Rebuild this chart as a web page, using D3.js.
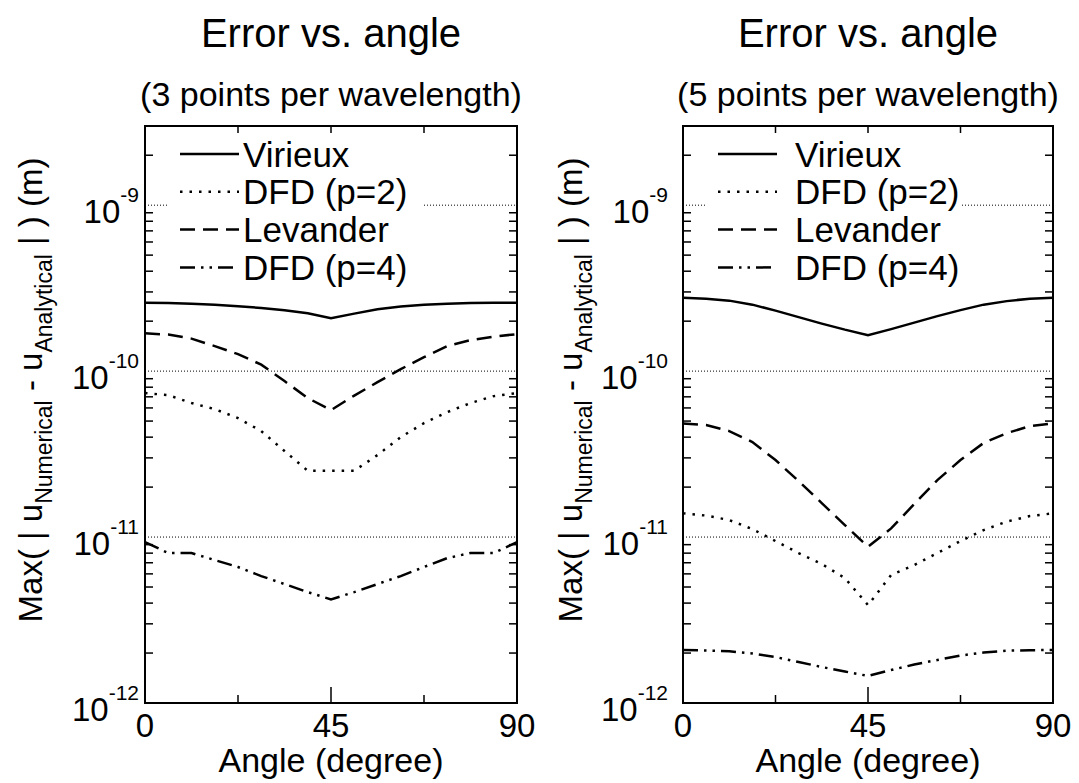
<!DOCTYPE html>
<html>
<head>
<meta charset="utf-8">
<script src="https://cdn.jsdelivr.net/npm/d3@7"></script>
<style>
  body { margin: 0; background: #fff; }
  svg { display: block; font-family: "Liberation Sans", Arial, Helvetica, sans-serif; }
</style>
</head>
<body>
<div id="chart"></div>
<script>
// angles (degree) where the error was sampled
const angles = [0, 5.625, 11.25, 16.875, 22.5, 28.125, 33.75, 39.375, 45,
                50.625, 56.25, 61.875, 67.5, 73.125, 78.75, 84.375, 90]

// 3 points per wavelength
const virieux3  = [2.58e-10, 2.57e-10, 2.55e-10, 2.51e-10, 2.46e-10, 2.40e-10, 2.33e-10, 2.23e-10, 2.08e-10,
                   2.22e-10, 2.36e-10, 2.45e-10, 2.51e-10, 2.55e-10, 2.57e-10, 2.58e-10, 2.58e-10]
const dfd2_3    = [7.37e-11, 7.17e-11, 6.42e-11, 5.90e-11, 5.21e-11, 4.35e-11, 3.30e-11, 2.51e-11, 2.51e-11,
                   2.51e-11, 3.12e-11, 4.00e-11, 4.86e-11, 5.66e-11, 6.42e-11, 7.07e-11, 7.37e-11]
const levander3 = [1.69e-10, 1.66e-10, 1.57e-10, 1.415e-10, 1.266e-10, 1.094e-10, 8.71e-11, 6.88e-11, 5.82e-11,
                   7.12e-11, 8.58e-11, 1.028e-10, 1.214e-10, 1.415e-10, 1.537e-10, 1.614e-10, 1.671e-10]
const dfd4_3    = [9.33e-12, 8.01e-12, 8.01e-12, 7.27e-12, 6.60e-12, 5.82e-12, 5.21e-12, 4.66e-12, 4.21e-12,
                   4.66e-12, 5.21e-12, 5.82e-12, 6.60e-12, 7.47e-12, 8.01e-12, 8.01e-12, 9.33e-12]

// 5 points per wavelength
const virieux5  = [2.772e-10, 2.734e-10, 2.659e-10, 2.515e-10, 2.314e-10, 2.115e-10, 1.933e-10, 1.778e-10, 1.648e-10,
                   1.791e-10, 1.960e-10, 2.145e-10, 2.330e-10, 2.515e-10, 2.641e-10, 2.734e-10, 2.772e-10]
const dfd2_5    = [1.389e-11, 1.348e-11, 1.266e-11, 1.117e-11, 9.46e-12, 8.01e-12, 6.88e-12, 5.66e-12, 3.89e-12,
                   5.90e-12, 6.78e-12, 8.01e-12, 9.46e-12, 1.102e-11, 1.240e-11, 1.338e-11, 1.389e-11]
const levander5 = [4.84e-11, 4.73e-11, 4.35e-11, 3.74e-11, 2.91e-11, 2.175e-11, 1.603e-11, 1.181e-11, 8.74e-12,
                   1.128e-11, 1.581e-11, 2.205e-11, 2.91e-11, 3.69e-11, 4.23e-11, 4.66e-11, 4.84e-11]
const dfd4_5    = [2.087e-12, 2.072e-12, 2.049e-12, 1.987e-12, 1.893e-12, 1.766e-12, 1.648e-12, 1.548e-12, 1.455e-12,
                   1.580e-12, 1.706e-12, 1.816e-12, 1.932e-12, 2.015e-12, 2.067e-12, 2.080e-12, 2.087e-12]

const seriesNames = ["Virieux", "DFD (p=2)", "Levander", "DFD (p=4)"]
const xMajorTicks = [0, 45, 90]
const xMinorTicks = [22.5, 67.5]
const yDecades = [-12, -11, -10, -9]
const yDomain = [1e-12, 3e-9]
const subtitles = ["(3 points per wavelength)", "(5 points per wavelength)"]

const width = 1079, height = 783
const plotTop = 126, plotBottom = 703

// one entry per panel (layout only)
const panels = [
    {left: 145, right: 517, series: [virieux3, dfd2_3, levander3, dfd4_3], sub: subtitles[0],
     tickGap: 6, yLabelX: 42, legendText: 98},
    {left: 683, right: 1053, series: [virieux5, dfd2_5, levander5, dfd4_5], sub: subtitles[1],
     tickGap: 15, yLabelX: 582, legendText: 112}
]

const dashes = [null, "2.5,7", "15,8", "15,6,2.5,6,2.5,6"]

const svg = d3.select("#chart").append("svg")
    .attr("width", width)
    .attr("height", height)

panels.forEach(p => drawPanel(p))

function drawPanel(p){
    const x = d3.scaleLinear().domain([0, 90]).range([p.left, p.right])
    const y = d3.scaleLog().domain(yDomain).range([plotBottom, plotTop])
    const cx = (p.left + p.right) / 2
    const g = svg.append("g")

    // titles
    g.append("text").attr("x", cx).attr("y", 47)
        .attr("text-anchor", "middle").attr("font-size", 40)
        .text("Error vs. angle")
    g.append("text").attr("x", cx).attr("y", 106)
        .attr("text-anchor", "middle").attr("font-size", 34)
        .text(p.sub)

    // dotted grid at decades
    g.append("g").selectAll("line")
        .data(yDecades.slice(1))
        .enter().append("line")
        .attr("x1", p.left).attr("x2", p.right)
        .attr("y1", d => y(Math.pow(10, d))).attr("y2", d => y(Math.pow(10, d)))
        .attr("stroke", "#000").attr("stroke-width", 1)
        .attr("stroke-dasharray", "1,2")

    // minor y ticks, both sides
    let minor = []
    for (let e = -12; e <= -9; e++) {
        for (let m = 2; m <= 9; m++) {
            let v = m * Math.pow(10, e)
            if (v <= yDomain[1]) minor.push(v)
        }
    }
    const ticks = g.append("g").attr("stroke", "#000").attr("stroke-width", 1.5)
    ticks.selectAll(".yl").data(minor).enter().append("line")
        .attr("x1", p.left).attr("x2", p.left + 8)
        .attr("y1", d => y(d)).attr("y2", d => y(d))
    ticks.selectAll(".yr").data(minor).enter().append("line")
        .attr("x1", p.right).attr("x2", p.right - 8)
        .attr("y1", d => y(d)).attr("y2", d => y(d))

    // x ticks
    ticks.selectAll(".xb").data(xMajorTicks.concat(xMinorTicks)).enter().append("line")
        .attr("x1", d => x(d)).attr("x2", d => x(d))
        .attr("y1", plotBottom).attr("y2", d => plotBottom - (d === 45 ? 16 : 8))
    ticks.selectAll(".xt").data([22.5, 45, 67.5]).enter().append("line")
        .attr("x1", d => x(d)).attr("x2", d => x(d))
        .attr("y1", plotTop).attr("y2", plotTop + 7)

    // x tick labels
    g.append("g").selectAll("text")
        .data(xMajorTicks)
        .enter().append("text")
        .attr("x", d => x(d)).attr("y", 737)
        .attr("text-anchor", "middle").attr("font-size", 33)
        .text(d => d)

    // y tick labels 10^n
    const yl = g.append("g").selectAll("text")
        .data(yDecades)
        .enter().append("text")
        .attr("x", p.left - p.tickGap)
        .attr("y", d => y(Math.pow(10, d)) + 17.5)
        .attr("text-anchor", "end").attr("font-size", 33)
    yl.append("tspan").text("10")
    yl.append("tspan").attr("dy", -20.5).attr("font-size", 21).text(d => "-" + Math.abs(d))

    // axis labels
    g.append("text").attr("x", cx).attr("y", 772)
        .attr("text-anchor", "middle").attr("font-size", 34)
        .text("Angle (degree)")

    const ylab = g.append("text")
        .attr("transform", "translate(" + p.yLabelX + ",390) rotate(-90)")
        .attr("text-anchor", "middle").attr("font-size", 33)
    ylab.append("tspan").text("Max( | u")
    ylab.append("tspan").attr("dy", 10).attr("font-size", 23).text("Numerical")
    ylab.append("tspan").attr("dy", -10).text(" - u")
    ylab.append("tspan").attr("dy", 10).attr("font-size", 23).text("Analytical")
    ylab.append("tspan").attr("dy", -10).text(" | ) (m)")

    // legend background hides the grid
    g.append("rect")
        .attr("x", p.left + 23).attr("y", 135)
        .attr("width", 255).attr("height", 150)
        .attr("fill", "#fff")

    // curves
    const line = d3.line()
        .x((d, i) => x(angles[i]))
        .y(d => y(d))

    g.append("g").selectAll("path")
        .data(p.series)
        .enter().append("path")
        .attr("d", d => line(d))
        .attr("fill", "none")
        .attr("stroke", "#000")
        .attr("stroke-width", 2.5)
        .attr("stroke-dasharray", (d, i) => dashes[i])

    // legend
    const leg = g.append("g").selectAll("g")
        .data(seriesNames)
        .enter().append("g")
        .attr("transform", (d, i) => "translate(0," + (154 + i * 37.8) + ")")
    leg.append("line")
        .attr("x1", p.left + 35).attr("x2", p.left + 94)
        .attr("stroke", "#000").attr("stroke-width", 2.5)
        .attr("stroke-dasharray", (d, i) => dashes[i])
    leg.append("text")
        .attr("x", p.left + p.legendText).attr("y", 12.5)
        .attr("font-size", 35)
        .text(d => d)

    // frame
    g.append("rect")
        .attr("x", p.left).attr("y", plotTop)
        .attr("width", p.right - p.left).attr("height", plotBottom - plotTop)
        .attr("fill", "none").attr("stroke", "#000").attr("stroke-width", 2)
}
</script>
</body>
</html>
